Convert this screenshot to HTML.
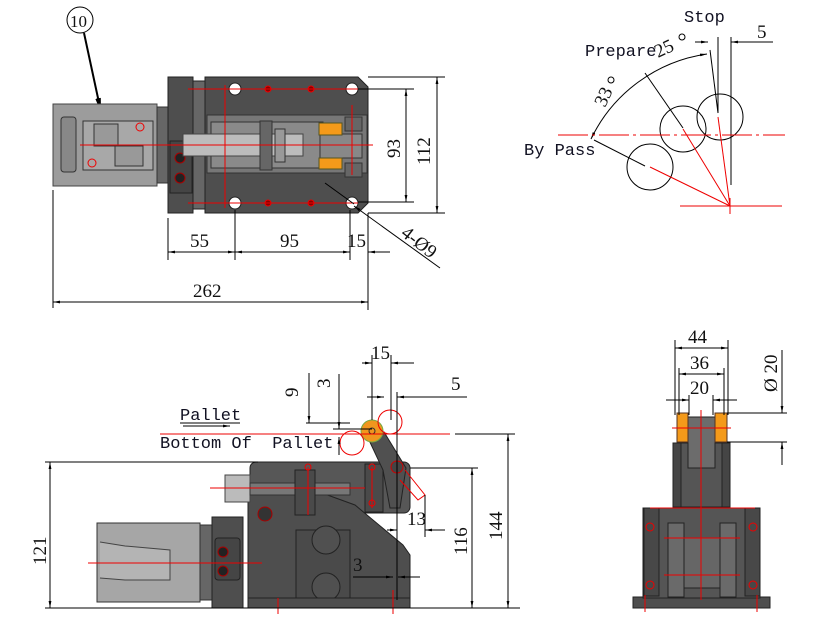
<!DOCTYPE html>
<html><head><meta charset="utf-8"><style>html,body{margin:0;padding:0;background:#fff}svg{display:block}</style></head><body>
<svg width="836" height="623" viewBox="0 0 836 623" xmlns="http://www.w3.org/2000/svg">
<defs>
<marker id="a" viewBox="0 0 10 10" refX="10" refY="5" markerWidth="7" markerHeight="7" orient="auto-start-reverse"><path d="M0,3 L10,5 L0,7z" fill="#000"/></marker>
</defs>
<style>
.d{stroke:#000;stroke-width:1;fill:none}
.r{stroke:#e00;stroke-width:1;fill:none}
.t{font-family:"Liberation Serif",serif;font-size:19px;fill:#111}
.m{font-family:"Liberation Mono",monospace;font-size:17px;fill:#112}
</style>

<!-- ===== TOP VIEW ===== -->
<circle cx="80" cy="20" r="13" class="d"/>
<text x="70" y="27" class="t" style="font-size:17px">10</text>
<line x1="84" y1="33" x2="101" y2="112" stroke="#000" stroke-width="2" marker-end="url(#a)"/>
<rect x="53" y="104" width="104" height="82" fill="#9c9c9c" stroke="#444"/>
<rect x="61" y="117" width="15" height="55" rx="3" fill="#888" stroke="#333"/>
<rect x="83" y="121" width="70" height="49" fill="#a8a8a8" stroke="#333"/>
<rect x="94" y="124" width="24" height="22" fill="#999" stroke="#333"/>
<rect x="115" y="146" width="28" height="20" fill="#999" stroke="#333"/>
<rect x="157" y="107" width="11" height="76" fill="#666" stroke="#333"/>
<rect x="168" y="77" width="25" height="136" fill="#4e4e4e" stroke="#222"/>
<rect x="170" y="141" width="22" height="52" fill="#454545" stroke="#222"/>
<circle cx="180" cy="158" r="5" fill="#222" stroke="#a00"/><circle cx="180" cy="178" r="5" fill="#222" stroke="#a00"/>
<rect x="193" y="81" width="12" height="128" fill="#666" stroke="#222"/>
<path d="M205,77 H358 L368,87 V203 L358,213 H205 Z" fill="#4e4e4e" stroke="#222"/>
<rect x="207" y="115" width="160" height="58" fill="#777" stroke="#333"/>
<rect x="211" y="122" width="112" height="46" fill="#8a8a8a" stroke="#333"/>
<rect x="183" y="134" width="120" height="22" fill="#bcbcbc" stroke="#444"/>
<rect x="260" y="121" width="12" height="49" fill="#666" stroke="#333"/>
<rect x="275" y="129" width="10" height="33" fill="#999" stroke="#333"/>
<rect x="320" y="134" width="42" height="24" fill="#888" stroke="#333"/>
<rect x="319" y="123" width="23" height="12" fill="#f49a1a" stroke="#552"/>
<rect x="319" y="158" width="23" height="11" fill="#f49a1a" stroke="#552"/>
<rect x="345" y="117" width="17" height="14" fill="#666" stroke="#333"/>
<rect x="345" y="163" width="17" height="14" fill="#666" stroke="#333"/>
<g fill="#fff" stroke="#222"><circle cx="235" cy="89" r="6"/><circle cx="352" cy="89" r="6"/><circle cx="235" cy="203" r="6"/><circle cx="352" cy="203" r="6"/></g>
<g fill="#800" stroke="#e00"><circle cx="268" cy="89" r="3"/><circle cx="311" cy="89" r="3"/><circle cx="268" cy="203" r="3"/><circle cx="311" cy="203" r="3"/></g>
<g class="r"><line x1="80" y1="145" x2="373" y2="145"/><line x1="188" y1="89" x2="358" y2="89"/><line x1="188" y1="203" x2="358" y2="203"/><line x1="225" y1="85" x2="225" y2="208"/><line x1="352" y1="105" x2="352" y2="175"/><circle cx="140" cy="127" r="4"/><circle cx="92" cy="163" r="4"/></g>
<g class="d">
<line x1="368" y1="77" x2="445" y2="77"/><line x1="358" y1="89" x2="414" y2="89"/><line x1="358" y1="202" x2="414" y2="202"/><line x1="368" y1="213" x2="445" y2="213"/>
<line x1="406" y1="89" x2="406" y2="202" marker-start="url(#a)" marker-end="url(#a)"/>
<line x1="437" y1="77" x2="437" y2="213" marker-start="url(#a)" marker-end="url(#a)"/>
<line x1="168" y1="218" x2="168" y2="260"/><line x1="235" y1="210" x2="235" y2="260"/><line x1="350" y1="210" x2="350" y2="260"/><line x1="368" y1="213" x2="368" y2="310"/><line x1="53" y1="190" x2="53" y2="308"/>
<line x1="168" y1="252" x2="235" y2="252" marker-start="url(#a)" marker-end="url(#a)"/>
<line x1="235" y1="252" x2="350" y2="252" marker-start="url(#a)" marker-end="url(#a)"/>
<line x1="368" y1="252" x2="390" y2="252" marker-start="url(#a)"/>
<line x1="53" y1="302" x2="368" y2="302" marker-start="url(#a)" marker-end="url(#a)"/>
<line x1="440" y1="268" x2="354" y2="206" marker-end="url(#a)"/>
<line x1="325" y1="183" x2="354" y2="204"/>
</g>
<text class="t" transform="translate(400,158) rotate(-90)">93</text>
<text class="t" transform="translate(430,165) rotate(-90)">112</text>
<text x="190" y="247" class="t">55</text><text x="280" y="247" class="t">95</text><text x="347" y="247" class="t">15</text>
<text x="193" y="297" class="t">262</text>
<text class="t" transform="translate(400,235) rotate(38)">4-Ø9</text>

<!-- ===== ANGLE DIAGRAM ===== -->
<text x="684" y="22" class="m">Stop</text>
<text x="757" y="38" class="t">5</text>
<text x="585" y="56" class="m">Prepare</text>
<text class="t" transform="translate(658,58) rotate(-25)">25</text>
<circle cx="682" cy="37" r="3" class="d"/>
<text class="t" transform="translate(605,108) rotate(-65)">33</text>
<circle cx="611" cy="80" r="3" class="d"/>
<text x="524" y="155" class="m">By&#160;Pass</text>
<g class="d">
<line x1="695" y1="42" x2="708" y2="42" marker-end="url(#a)"/><line x1="773" y1="42" x2="731" y2="42" marker-end="url(#a)"/>
<line x1="718" y1="37" x2="718" y2="113"/><line x1="731" y1="37" x2="731" y2="185"/>
<path d="M591,139 A153,153 0 0 1 707,54" marker-start="url(#a)" marker-end="url(#a)"/>
<line x1="594" y1="140" x2="645" y2="166"/><line x1="645" y1="73" x2="683" y2="128"/><line x1="710" y1="50" x2="718" y2="113"/>
<circle cx="720" cy="117" r="23"/><circle cx="683" cy="129" r="23"/><circle cx="650" cy="167" r="23"/>
</g>
<g class="r">
<line x1="558" y1="135" x2="785" y2="135" stroke-dasharray="30,4,3,4"/>
<line x1="680" y1="206" x2="782" y2="206"/><line x1="730" y1="198" x2="730" y2="214"/>
<line x1="730" y1="206" x2="650" y2="167"/><line x1="730" y1="206" x2="683" y2="129"/><line x1="730" y1="206" x2="718" y2="117"/>
</g>

<!-- ===== SIDE VIEW ===== -->
<rect x="97" y="523" width="103" height="79" fill="#a6a6a6" stroke="#333"/>
<path d="M100,542 L125,546 L170,550 V580 L125,580 L100,578" fill="#b4b4b4" stroke="#444"/>
<rect x="200" y="525" width="12" height="75" fill="#666" stroke="#333"/>
<rect x="212" y="517" width="31" height="91" fill="#4e4e4e" stroke="#222"/>
<rect x="215" y="538" width="25" height="42" rx="3" fill="#454545" stroke="#222"/>
<circle cx="223" cy="552" r="5" fill="#222" stroke="#a00"/><circle cx="223" cy="571" r="5" fill="#222" stroke="#a00"/>
<rect x="250" y="462" width="160" height="51" rx="6" fill="#575757" stroke="#222"/>
<path d="M248,487 L300,485 L355,505 L403,545 L410,555 L410,608 L248,608Z" fill="#4e4e4e" stroke="#222"/>
<rect x="225" y="475" width="25" height="27" fill="#bbb" stroke="#444"/>
<rect x="250" y="483" width="100" height="12" fill="#777" stroke="#333"/>
<rect x="295" y="470" width="20" height="45" fill="#4a4a4a" stroke="#222"/>
<rect x="365" y="464" width="18" height="48" fill="#4a4a4a" stroke="#222"/>
<rect x="296" y="530" width="54" height="72" fill="#4a4a4a" stroke="#222"/>
<circle cx="326" cy="540" r="14" fill="#505050" stroke="#222"/><circle cx="326" cy="587" r="14" fill="#505050" stroke="#222"/>
<circle cx="265" cy="514" r="7" fill="#333" stroke="#a00"/>
<rect x="248" y="598" width="162" height="10" fill="#4e4e4e" stroke="#222"/>
<path d="M368,438 L384,432 L406,468 L400,508 L390,508 L383,470 Z" fill="#505050" stroke="#222"/>
<circle cx="397" cy="467" r="6" fill="#444" stroke="#c00"/>
<circle cx="372" cy="431" r="11" fill="#f0961e" stroke="#7a4"/>
<circle cx="372" cy="431" r="3" fill="none" stroke="#333"/>
<g class="r">
<line x1="160" y1="434" x2="450" y2="434"/>
<line x1="210" y1="488" x2="365" y2="488"/>
<line x1="88" y1="563" x2="262" y2="563"/>
<line x1="308" y1="467" x2="308" y2="515"/><line x1="372" y1="467" x2="372" y2="508"/>
<line x1="278" y1="598" x2="278" y2="614"/><line x1="393" y1="590" x2="393" y2="614"/>
<circle cx="390" cy="422" r="12"/><circle cx="352" cy="443" r="12"/>
<path d="M405,470 L425,495 L418,500 L400,480"/>
<circle cx="308" cy="467" r="3"/><circle cx="372" cy="467" r="3"/><circle cx="372" cy="503" r="3"/>
</g>
<g class="d">
<line x1="45" y1="462" x2="258" y2="462"/><line x1="45" y1="608" x2="520" y2="608"/>
<line x1="50" y1="462" x2="50" y2="608" marker-start="url(#a)" marker-end="url(#a)"/>
<line x1="455" y1="434" x2="515" y2="434"/>
<line x1="508" y1="434" x2="508" y2="608" marker-start="url(#a)" marker-end="url(#a)"/>
<line x1="410" y1="468" x2="478" y2="468"/>
<line x1="472" y1="468" x2="472" y2="608" marker-start="url(#a)" marker-end="url(#a)"/>
<line x1="309" y1="373" x2="309" y2="423" marker-end="url(#a)"/><line x1="306" y1="423" x2="350" y2="423"/>
<line x1="339" y1="374" x2="339" y2="429" marker-end="url(#a)"/><line x1="333" y1="429" x2="372" y2="429"/>
<line x1="339" y1="455" x2="339" y2="437" marker-end="url(#a)"/>
<line x1="372" y1="355" x2="372" y2="420"/><line x1="391" y1="355" x2="391" y2="420"/>
<line x1="362" y1="363" x2="372" y2="363" marker-end="url(#a)"/><line x1="414" y1="363" x2="391" y2="363" marker-end="url(#a)"/>
<line x1="367" y1="397" x2="384" y2="397" marker-end="url(#a)"/><line x1="467" y1="397" x2="397" y2="397" marker-end="url(#a)"/>
<line x1="397" y1="392" x2="397" y2="600"/><line x1="425" y1="495" x2="425" y2="537"/>
<line x1="387" y1="530" x2="397" y2="530" marker-end="url(#a)"/><line x1="445" y1="530" x2="425" y2="530" marker-end="url(#a)"/>
<line x1="353" y1="577" x2="393" y2="577" marker-end="url(#a)"/><line x1="420" y1="577" x2="398" y2="577" marker-end="url(#a)"/>
<line x1="183" y1="426" x2="230" y2="426" marker-end="url(#a)"/>
</g>
<text class="t" transform="translate(46,565) rotate(-90)">121</text>
<text class="t" transform="translate(502,540) rotate(-90)">144</text>
<text class="t" transform="translate(467,555) rotate(-90)">116</text>
<text class="t" transform="translate(298,397) rotate(-90)">9</text>
<text class="t" transform="translate(330,388) rotate(-90)">3</text>
<text x="371" y="359" class="t">15</text>
<text x="451" y="390" class="t">5</text>
<text x="407" y="525" class="t">13</text>
<text x="353" y="571" class="t">3</text>
<text x="180" y="420" class="m">Pallet</text>
<line x1="180" y1="423" x2="240" y2="423" stroke="#000"/>
<text x="160" y="448" class="m">Bottom&#160;Of&#160;&#160;Pallet</text>

<!-- ===== FRONT VIEW ===== -->
<rect x="633" y="597" width="137" height="11" fill="#4e4e4e" stroke="#222"/>
<rect x="643" y="508" width="117" height="90" fill="#555" stroke="#222"/>
<rect x="644" y="508" width="15" height="88" fill="#484848" stroke="#222"/>
<rect x="745" y="508" width="15" height="88" fill="#484848" stroke="#222"/>
<rect x="668" y="523" width="16" height="74" fill="#6a6a6a" stroke="#222"/>
<rect x="720" y="523" width="16" height="74" fill="#6a6a6a" stroke="#222"/>
<rect x="684" y="538" width="36" height="50" fill="#666" stroke="#222"/>
<rect x="673" y="443" width="57" height="64" fill="#555" stroke="#222"/>
<rect x="673" y="443" width="8" height="64" fill="#454545" stroke="#222"/>
<rect x="722" y="443" width="8" height="64" fill="#454545" stroke="#222"/>
<rect x="688" y="417" width="27" height="51" fill="#6c6c6c" stroke="#222"/>
<rect x="677" y="413" width="11" height="29" fill="#f49a1a" stroke="#532"/>
<rect x="715" y="413" width="12" height="29" fill="#f49a1a" stroke="#532"/>
<g class="r">
<line x1="701" y1="410" x2="701" y2="600"/><line x1="672" y1="428" x2="731" y2="428"/>
<line x1="650" y1="508" x2="755" y2="508"/><line x1="664" y1="538" x2="740" y2="538"/><line x1="664" y1="575" x2="740" y2="575"/>
<circle cx="650" cy="527" r="4"/><circle cx="753" cy="527" r="4"/><circle cx="650" cy="585" r="4"/><circle cx="753" cy="585" r="4"/>
<line x1="645" y1="595" x2="645" y2="612"/><line x1="757" y1="595" x2="757" y2="612"/>
</g>
<g class="d">
<line x1="675" y1="340" x2="675" y2="415"/><line x1="728" y1="340" x2="728" y2="415"/>
<line x1="679" y1="368" x2="679" y2="415"/><line x1="724" y1="368" x2="724" y2="415"/>
<line x1="689" y1="395" x2="689" y2="415"/><line x1="713" y1="395" x2="713" y2="415"/>
<line x1="675" y1="348" x2="728" y2="348" marker-start="url(#a)" marker-end="url(#a)"/>
<line x1="679" y1="374" x2="724" y2="374" marker-start="url(#a)" marker-end="url(#a)"/>
<line x1="666" y1="400" x2="689" y2="400" marker-end="url(#a)"/><line x1="737" y1="400" x2="713" y2="400" marker-end="url(#a)"/>
<line x1="727" y1="413" x2="787" y2="413"/><line x1="727" y1="442" x2="787" y2="442"/>
<line x1="782" y1="350" x2="782" y2="413" marker-end="url(#a)"/><line x1="782" y1="465" x2="782" y2="442" marker-end="url(#a)"/>
</g>
<text x="688" y="343" class="t">44</text>
<text x="690" y="369" class="t">36</text>
<text x="690" y="394" class="t">20</text>
<text class="t" transform="translate(777,392) rotate(-90)">Ø 20</text>
</svg>
</body></html>
